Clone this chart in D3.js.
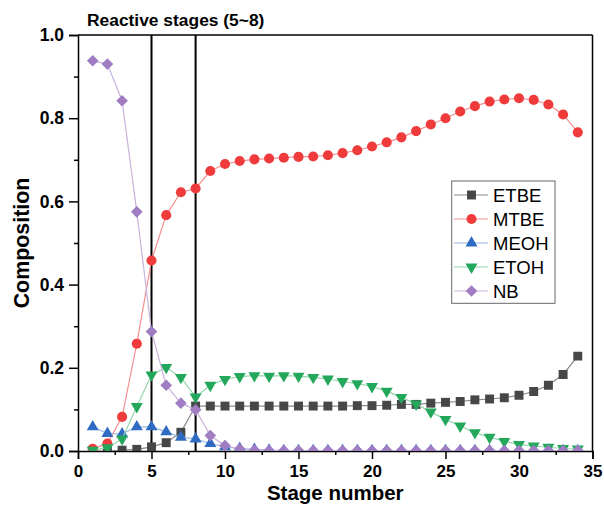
<!DOCTYPE html>
<html><head><meta charset="utf-8">
<script src="https://cdn.jsdelivr.net/npm/d3@7"></script>
<style>body{margin:0;background:#fff;} svg{display:block;font-family:Arial,"Liberation Sans",sans-serif;}</style>
</head><body>
<svg id="chart" width="604" height="509"></svg>
<script>
const stages = d3.range(1, 35);
const ETBE = [0.0,0.0,0.002,0.004,0.01,0.02,0.045,0.108,0.108,0.108,0.108,0.108,0.108,0.108,0.108,0.108,0.108,0.108,0.109,0.109,0.110,0.112,0.112,0.115,0.117,0.119,0.123,0.125,0.128,0.134,0.143,0.158,0.184,0.228];
const MTBE = [0.005,0.018,0.082,0.258,0.458,0.567,0.622,0.631,0.673,0.690,0.697,0.701,0.703,0.705,0.707,0.708,0.711,0.716,0.723,0.732,0.742,0.754,0.769,0.785,0.800,0.816,0.829,0.840,0.845,0.848,0.844,0.833,0.809,0.766];
const MEOH = [0.058,0.042,0.041,0.058,0.058,0.046,0.033,0.029,0.018,0.010,0.006,0.004,0.002,0.001,0.001,0.001,0.001,0.001,0.001,0.001,0.001,0.001,0.001,0.001,0.001,0.001,0.001,0.001,0.001,0.001,0.001,0.001,0.001,0.001];
const ETOH = [0.002,0.008,0.029,0.107,0.183,0.201,0.177,0.130,0.158,0.172,0.179,0.181,0.180,0.181,0.180,0.177,0.173,0.167,0.162,0.155,0.144,0.129,0.113,0.094,0.076,0.060,0.044,0.033,0.023,0.016,0.012,0.009,0.006,0.005];
const NB = [0.938,0.930,0.842,0.575,0.287,0.158,0.115,0.099,0.037,0.013,0.005,0.002,0.001,0.001,0.001,0.001,0.001,0.001,0.001,0.001,0.001,0.001,0.001,0.001,0.001,0.001,0.001,0.001,0.001,0.001,0.001,0.001,0.001,0.001];
const seriesNames = ["ETBE","MTBE","MEOH","ETOH","NB"];
const xTicks = [0,5,10,15,20,25,30,35];
const yTicks = [0,0.2,0.4,0.6,0.8,1.0];
const reactiveBounds = [5, 8];

const styles = {
  ETBE:{fill:"#474747", line:"#8a8a8a", sym:d3.symbolSquare, size:80, rot:0},
  MTBE:{fill:"#ef3b3b", line:"#f5908f", sym:d3.symbolCircle, size:80, rot:0},
  MEOH:{fill:"#2f6bc2", line:"#9bb8e4", sym:d3.symbolTriangle, size:62, rot:0},
  ETOH:{fill:"#23a85b", line:"#93d6ab", sym:d3.symbolTriangle, size:62, rot:180},
  NB:{fill:"#a07cc2", line:"#c9b3dd", sym:d3.symbolSquare, size:68, rot:45}
};
const dataMap = {ETBE, MTBE, MEOH, ETOH, NB};

const svg = d3.select("#chart");
const L = 78, R = 592.5, T = 35, B = 451;
const x = d3.scaleLinear().domain([0,35]).range([L,R]);
const y = d3.scaleLinear().domain([0,1]).range([B,T]);

svg.append("defs").append("clipPath").attr("id","clip")
  .append("rect").attr("x",L).attr("y",T).attr("width",R-L).attr("height",B-T);

// axes
const xAxis = d3.axisBottom(x).tickValues(xTicks).tickSize(8).tickPadding(6).tickFormat(d3.format("d"));
const gx = svg.append("g").attr("transform",`translate(0,${B})`).call(xAxis);
const xMinor = d3.axisBottom(x).tickValues(d3.range(2.5,35,5)).tickSize(4).tickFormat("");
svg.append("g").attr("transform",`translate(0,${B})`).call(xMinor).select(".domain").remove();
const yAxis = d3.axisLeft(y).tickValues(yTicks).tickSize(9).tickPadding(5).tickFormat(d3.format(".1f"));
const gy = svg.append("g").attr("transform",`translate(${L},0)`).call(yAxis);
const yMinor = d3.axisLeft(y).tickValues(d3.range(0.1,1,0.2)).tickSize(4).tickFormat("");
svg.append("g").attr("transform",`translate(${L},0)`).call(yMinor).select(".domain").remove();
svg.selectAll(".tick line").attr("stroke","#000").attr("stroke-width",1.5);
svg.selectAll(".domain").attr("stroke","#000").attr("stroke-width",1.5);
svg.selectAll(".tick text").attr("font-size",17.5).attr("font-weight","bold").attr("fill","#000");
gx.selectAll(".tick text").attr("font-size",17).attr("dy","0.68em");
// frame top/right
svg.append("line").attr("x1",L).attr("x2",R).attr("y1",T).attr("y2",T).attr("stroke","#000").attr("stroke-width",1.5);
svg.append("line").attr("x1",R).attr("x2",R).attr("y1",T).attr("y2",B).attr("stroke","#000").attr("stroke-width",1.5);

// reactive stage lines
svg.append("g").selectAll("line").data(reactiveBounds).join("line")
  .attr("x1",d=>x(d)).attr("x2",d=>x(d)).attr("y1",T).attr("y2",B)
  .attr("stroke","#000").attr("stroke-width",2);

const plot = svg.append("g").attr("clip-path","url(#clip)");
const lineGen = d3.line().x((d,i)=>x(stages[i])).y(d=>y(d));
seriesNames.forEach(name=>{
  const st = styles[name];
  const vals = dataMap[name];
  const g = plot.append("g");
  g.append("path").attr("d",lineGen(vals)).attr("fill","none").attr("stroke",st.line).attr("stroke-width",1.2);
  const sym = d3.symbol().type(st.sym).size(st.size);
  g.selectAll("path.m").data(vals).join("path").attr("class","m")
    .attr("d",sym())
    .attr("transform",(d,i)=>`translate(${x(stages[i])},${y(d)}) rotate(${st.rot})`)
    .attr("fill",st.fill);
});

// title and labels
svg.append("text").attr("x",87).attr("y",26).attr("font-size",17.4).attr("font-weight","bold").text("Reactive stages (5~8)");
svg.append("text").attr("x",(L+R)/2).attr("y",499.5).attr("text-anchor","middle").attr("font-size",20.5).attr("font-weight","bold").text("Stage number");
svg.append("text").attr("transform",`translate(28.5,${(T+B)/2}) rotate(-90)`).attr("text-anchor","middle").attr("font-size",21.4).attr("font-weight","bold").text("Composition");

// legend
const lg = svg.append("g");
lg.append("rect").attr("x",451.7).attr("y",181).attr("width",103.3).attr("height",122.3).attr("fill","#fff").attr("stroke","#666").attr("stroke-width",1);
seriesNames.forEach((name,i)=>{
  const st = styles[name];
  const cy = 195 + i*24;
  lg.append("line").attr("x1",454).attr("x2",488).attr("y1",cy).attr("y2",cy).attr("stroke",st.line).attr("stroke-width",1.2);
  lg.append("path").attr("d",d3.symbol().type(st.sym).size(st.size)()).attr("transform",`translate(471.5,${cy}) rotate(${st.rot})`).attr("fill",st.fill);
  lg.append("text").attr("x",493).attr("y",cy).attr("dy","0.36em").attr("font-size",18.5).attr("fill","#000").text(name);
});
</script>
</body></html>
